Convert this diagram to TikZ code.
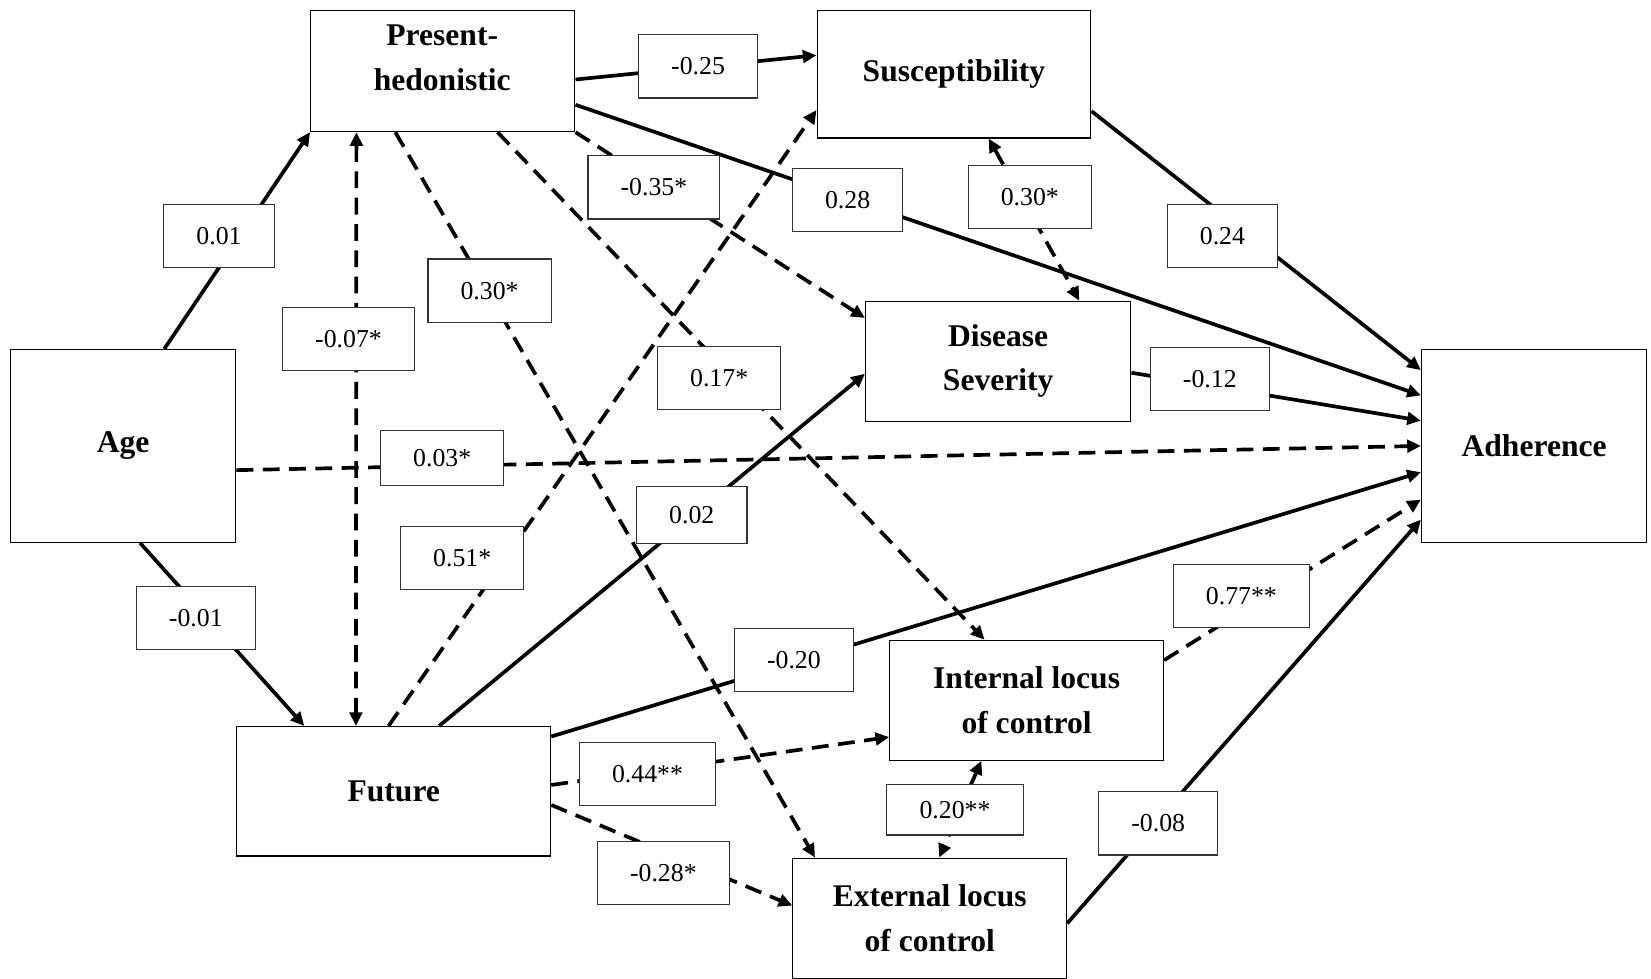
\documentclass[tikz,border=0pt]{standalone}
\usepackage{fontspec}
\setmainfont{Liberation Serif}
\usetikzlibrary{arrows.meta}

\begin{document}
\begin{tikzpicture}[x=1pt,y=-1pt,>={Triangle[length=13pt,width=12pt]},
  var/.style={draw,line width=1.1pt,fill=white,align=center,inner sep=0pt,font=\fontsize{30}{42}\selectfont\bfseries},
  coef/.style={draw=black!80,line width=1.1pt,fill=white,inner xsep=31pt,inner ysep=0pt,minimum height=60pt,font=\fontsize{24.5}{28}\selectfont},
  eff/.style={line width=3.5pt,->},
  sig/.style={eff,dash pattern=on 16pt off 9pt}]
\useasboundingbox (0,0) rectangle (1568,929);
% variables
\node[var,minimum width=214pt,minimum height=183pt] (age) at (117,423.5) {Age};
\node[var,minimum width=251pt,minimum height=115pt] (ph) at (420.5,67.5) {};
\node[var,draw=none,fill=none] (phtext) at (420,55) {Present-\\hedonistic};
\node[var,minimum width=298pt,minimum height=123pt] (fut) at (374,751.5) {Future};
\node[var,minimum width=260pt,minimum height=121pt] (sus) at (906,70.5) {Susceptibility};
\node[var,minimum width=252pt,minimum height=114pt] (ds) at (948,343) {Disease\\Severity};
\node[var,minimum width=260pt,minimum height=114pt] (il) at (975,665) {Internal locus\\of control};
\node[var,minimum width=260pt,minimum height=114pt] (el) at (883,872) {External locus\\of control};
\node[var,minimum width=214pt,minimum height=183pt] (adh) at (1457,423.5) {Adherence};
% paths
\draw[eff] ([xshift=39pt]age.north) -- (ph.south west);
\draw[eff] ([xshift=16pt]age.south) -- ([xshift=-85pt]fut.north);
\draw[sig,<->] ([xshift=-82pt]ph.south) -- ([xshift=-36pt]fut.north);
\draw[eff] ([yshift=-8pt]ph.east) -- ([yshift=18pt]sus.west);
\draw[eff] ([yshift=-32pt]ph.east) -- ([yshift=48pt]adh.west);
\draw[sig] (ph.south east) -- ([yshift=41pt]ds.west);
\draw[sig] ([xshift=52pt]ph.south) -- ([xshift=-40pt]il.north);
\draw[sig] ([xshift=-45pt]ph.south) -- ([xshift=-109pt]el.north);
\draw[sig] ([xshift=-5pt]fut.north) -- ([yshift=-34pt]sus.west);
\draw[eff] ([xshift=43pt]fut.north) -- ([yshift=-12pt]ds.west);
\draw[eff] ([yshift=52pt]fut.east) -- ([yshift=-25pt]adh.west);
\draw[sig] ([yshift=6pt]fut.east) -- ([yshift=-35pt]il.west);
\draw[sig] ([yshift=-13pt]fut.east) -- ([yshift=12pt]el.west);
\draw[sig] ([yshift=-23pt]age.east) -- (adh.west);
\draw[eff] ([yshift=-35pt]sus.east) -- ([yshift=72pt]adh.west);
\draw[eff] ([yshift=-11pt]ds.east) -- ([yshift=24pt]adh.west);
\draw[sig] ([yshift=38pt]il.east) -- ([yshift=-51pt]adh.west);
\draw[eff] ([yshift=-5pt]el.east) -- ([yshift=-70pt]adh.west);
\draw[sig,<->] ([xshift=33pt]sus.south) -- ([xshift=77pt]ds.north);
\draw[sig,<->] ([xshift=-43pt]il.south) -- ([xshift=9pt]el.north);
% coefficients
\node[coef] (c1) at (208,224) {0.01};
\node[coef] (c2) at (186,587) {-0.01};
\node[coef] (c3) at (331,322) {-0.07*};
\node[coef] (c4) at (663,63) {-0.25};
\node[coef] (c5) at (805,190) {0.28};
\node[coef] (c6) at (621,178) {-0.35*};
\node[coef] (c7) at (683,359) {0.17*};
\node[coef] (c8) at (465,276) {0.30*};
\node[coef] (c9) at (439,530) {0.51*};
\node[coef,minimum height=54pt] (c10) at (657,489) {0.02};
\node[coef] (c11) at (754,627) {-0.20};
\node[coef] (c12) at (615,735) {0.44**};
\node[coef] (c13) at (630,829) {-0.28*};
\node[coef,minimum height=52pt] (c14) at (420,435) {0.03*};
\node[coef] (c15) at (1161,224) {0.24};
\node[coef] (c16) at (1149,360) {-0.12};
\node[coef] (c17) at (1179,566) {0.77**};
\node[coef] (c18) at (1100,782) {-0.08};
\node[coef] (c19) at (978,187) {0.30*};
\node[coef,minimum height=48pt] (c20) at (907,769) {0.20**};
\end{tikzpicture}
\end{document}
